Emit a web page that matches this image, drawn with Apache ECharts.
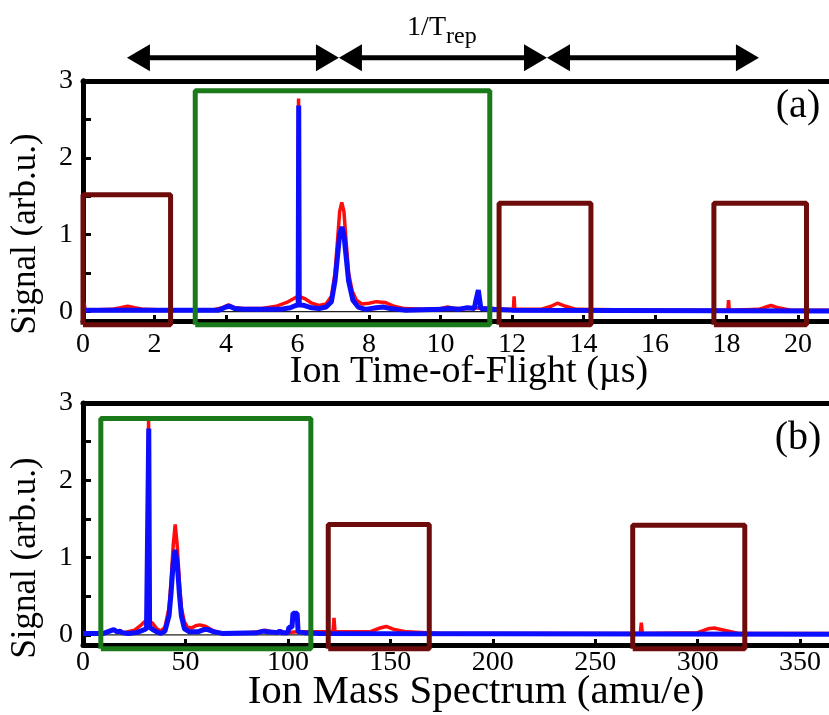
<!DOCTYPE html>
<html><head><meta charset="utf-8">
<script src="https://cdn.jsdelivr.net/npm/echarts@6/dist/echarts.min.js"></script>
<style>html,body{margin:0;padding:0;background:#fff}#c{width:829px;height:715px}</style>
</head><body><div id="c"></div><script>
// ---------- data ----------
const tofTicks = [0,2,4,6,8,10,12,14,16,18,20];
const massTicks = [0,50,100,150,200,250,300,350];
const yTickMarks = [0,0.5,1,1.5,2,2.5,3];
const yTickLabels = [0,1,2,3];

// Panel (a): ion time-of-flight (µs) vs signal
const tofRed = [[0,0.02],[0.03,0.12],[0.06,0.02],[0.8,0.03],[1.05,0.05],[1.25,0.07],[1.45,0.05],[1.7,0.03],[2.5,0.02],[3.6,0.02],[3.9,0.05],[4.07,0.09],[4.25,0.05],[4.45,0.04],[4.5,0.06],[4.55,0.04],[5.0,0.04],[5.4,0.07],[5.7,0.12],[5.9,0.17],[6.01,0.2],[6.03,2.77],[6.05,0.2],[6.2,0.17],[6.4,0.11],[6.6,0.08],[6.8,0.1],[6.95,0.2],[7.05,0.5],[7.12,0.92],[7.18,1.3],[7.24,1.42],[7.3,1.3],[7.36,0.92],[7.43,0.5],[7.53,0.27],[7.65,0.15],[7.8,0.1],[8.0,0.11],[8.2,0.13],[8.45,0.12],[8.7,0.07],[9.0,0.04],[9.5,0.03],[10.0,0.04],[10.2,0.06],[10.4,0.04],[10.7,0.04],[10.75,0.06],[10.8,0.04],[11.0,0.05],[11.4,0.04],[11.8,0.03],[12.04,0.03],[12.06,0.2],[12.08,0.03],[12.8,0.03],[13.1,0.07],[13.27,0.11],[13.5,0.07],[13.8,0.03],[16,0.02],[18.04,0.02],[18.06,0.15],[18.08,0.02],[18.9,0.03],[19.1,0.06],[19.25,0.08],[19.45,0.05],[19.8,0.02],[20.87,0.02]];
const tofBlue = [[0,0.02],[3.8,0.02],[4.0,0.06],[4.1,0.07],[4.25,0.04],[4.5,0.03],[4.55,0.05],[4.6,0.03],[5.5,0.03],[5.8,0.05],[5.95,0.08],[6.02,0.09],[6.035,2.68],[6.05,0.09],[6.2,0.08],[6.4,0.05],[6.6,0.04],[6.8,0.06],[6.95,0.13],[7.05,0.4],[7.12,0.72],[7.18,1.0],[7.24,1.1],[7.3,1.0],[7.36,0.72],[7.43,0.4],[7.55,0.15],[7.7,0.06],[7.9,0.03],[8.2,0.05],[8.4,0.06],[8.6,0.04],[9.0,0.02],[10.0,0.03],[10.25,0.04],[10.5,0.03],[10.75,0.05],[10.8,0.03],[10.95,0.04],[10.98,0.12],[11.03,0.12],[11.06,0.28],[11.1,0.28],[11.13,0.04],[11.5,0.03],[12,0.02],[20.87,0.01]];

// Panel (b): ion mass spectrum (amu/e) vs signal
const massRed = [[0,0.02],[10,0.02],[13,0.05],[15,0.07],[17,0.04],[20,0.03],[25,0.06],[28,0.12],[30,0.17],[31.5,0.19],[32,2.77],[32.5,0.18],[34,0.15],[36,0.08],[38,0.05],[40,0.1],[42,0.35],[43,0.7],[44,1.15],[45,1.43],[46,1.15],[47,0.7],[48,0.35],[49.5,0.17],[51,0.1],[53,0.09],[55,0.12],[57,0.13],[60,0.11],[63,0.06],[67,0.03],[80,0.03],[86,0.04],[89,0.06],[92,0.04],[96,0.04],[97,0.05],[98,0.03],[105,0.04],[112,0.04],[122,0.04],[122.5,0.22],[123,0.04],[140,0.04],[145,0.09],[148,0.11],[152,0.07],[158,0.04],[175,0.02],[272,0.02],[272.5,0.16],[273,0.02],[300,0.03],[305,0.08],[308,0.09],[313,0.06],[320,0.02],[364.1,0.02]];
const massBlue = [[0,0.02],[10,0.02],[13,0.05],[15,0.07],[16.5,0.04],[18,0.05],[19,0.03],[22,0.02],[26,0.03],[29,0.06],[31,0.08],[31.7,0.1],[32.1,2.67],[32.5,0.1],[34,0.07],[36,0.04],[38,0.02],[40,0.05],[42,0.25],[43,0.55],[44,0.92],[45,1.1],[46,0.92],[47,0.55],[48,0.25],[49.5,0.08],[52,0.04],[56,0.04],[59,0.07],[61,0.07],[64,0.04],[68,0.02],[85,0.03],[88,0.05],[90,0.04],[95,0.03],[96,0.05],[97,0.03],[100,0.03],[100.5,0.1],[102,0.1],[102.5,0.28],[104.5,0.28],[105,0.04],[108,0.03],[115,0.02],[364.1,0.01]];

// annotation boxes: [xLeft, xRight, yTop]
const tofBoxesRed = [[0,2.45,1.52],[11.64,14.21,1.41],[17.65,20.24,1.41]];
const tofBoxesGreen = [[3.14,11.38,2.87]];
const massBoxesRed = [[119.7,169,1.43],[268.3,323,1.42]];
const massBoxesGreen = [[8.7,111.2,2.80]];
const boxBottomA = -0.17, boxBottomB = -0.18;

// repetition-period arrows (tips, in µs) at signal level
const repArrowTips = [1.23,7.16,12.98,18.91];
const repArrowY = 3.3;

// ---------- chart ----------
const FONT = '"Liberation Serif","Times New Roman",serif';
const RED = '#ff0d0d', BLUE = '#0d0dff', DRED = '#6e0c0c', GREEN = '#1a7a1a';
const chart = echarts.init(document.getElementById('c'), null, {renderer:'canvas'});

function xAxisPair(gi, max, ticks, margin){
  return [
    {type:'value', gridIndex:gi, position:'bottom', min:0, max:max,
     axisLine:{onZero:false, lineStyle:{color:'#000', width:5}},
     axisTick:{inside:true, length:6, customValues:ticks, lineStyle:{color:'#000', width:3}},
     axisLabel:{customValues:ticks, margin:margin, color:'#000', fontFamily:FONT, fontSize:28},
     splitLine:{show:false}},
    {type:'value', gridIndex:gi, position:'top', min:0, max:max,
     axisLine:{onZero:false, lineStyle:{color:'#000', width:5}},
     axisTick:{show:false}, axisLabel:{show:false}, splitLine:{show:false}}
  ];
}
function yAxis(gi, min){
  return {type:'value', gridIndex:gi, min:min, max:3,
    axisLine:{show:true, onZero:false, lineStyle:{color:'#000', width:5}},
    axisTick:{show:true, inside:true, length:8, customValues:yTickMarks, lineStyle:{color:'#000', width:3}},
    axisLabel:{customValues:yTickLabels, margin:10, color:'#000', fontFamily:FONT, fontSize:28},
    splitLine:{show:false}};
}
function lineSeries(data, xi, yi, color, width, z){
  return {type:'line', data:data, xAxisIndex:xi, yAxisIndex:yi, symbol:'none', showSymbol:false,
    lineStyle:{color:color, width:width}, z:z, animation:false, silent:true, clip:false};
}
function boxSeries(boxes, bottom, xi, yi, color){
  return boxes.map(b => lineSeries(
    [[b[0],bottom],[b[1],bottom],[b[1],b[2]],[b[0],b[2]],[b[0],bottom]], xi, yi, color, 5, 5));
}

const option = {
  backgroundColor:'#fff',
  animation:false,
  grid:[
    {left:83, top:80.8, width:746, height:240.1},
    {left:83, top:403, width:746, height:242}
  ],
  xAxis:[].concat(xAxisPair(0, 20.87, tofTicks, 10), xAxisPair(1, 364.1, massTicks, 4)),
  yAxis:[yAxis(0, -0.12), yAxis(1, -0.13)],
  series:[].concat(
    [lineSeries([[0,0],[20.87,0]], 0, 0, '#222', 1.2, 2),
     lineSeries(tofRed, 0, 0, RED, 3.5, 3),
     lineSeries(tofBlue, 0, 0, BLUE, 5, 4)],
    boxSeries(tofBoxesRed, boxBottomA, 0, 0, DRED),
    boxSeries(tofBoxesGreen, boxBottomA, 0, 0, GREEN),
    [lineSeries([[0,0],[364.1,0]], 2, 1, '#222', 1.2, 2),
     lineSeries(massRed, 2, 1, RED, 3.5, 3),
     lineSeries(massBlue, 2, 1, BLUE, 5, 4)],
    boxSeries(massBoxesRed, boxBottomB, 2, 1, DRED),
    boxSeries(massBoxesGreen, boxBottomB, 2, 1, GREEN)
  )
};
chart.setOption(option);

// ---------- annotations (positions from the chart's own scales) ----------
const g = [];
const headLen = 23, halfH = 13.5;
const pts = repArrowTips.map(t => chart.convertToPixel({xAxisIndex:0, yAxisIndex:0}, [t, repArrowY]));
for (let i = 0; i < pts.length - 1; i++) {
  const a = pts[i], b = pts[i+1], y = a[1];
  g.push({type:'line', shape:{x1:a[0]+headLen-2, y1:y, x2:b[0]-headLen+2, y2:y}, style:{stroke:'#000', lineWidth:5}});
  g.push({type:'polygon', shape:{points:[[a[0],y],[a[0]+headLen,y-halfH],[a[0]+headLen,y+halfH]]}, style:{fill:'#000'}});
  g.push({type:'polygon', shape:{points:[[b[0],y],[b[0]-headLen,y-halfH],[b[0]-headLen,y+halfH]]}, style:{fill:'#000'}});
}
function txt(text, x, y, size, align, valign, rot){
  return {type:'text', x:x, y:y, rotation:rot||0,
    style:{text:text, fill:'#000', font:'normal ' + size + 'px ' + FONT,
      align:align, textAlign:align, verticalAlign:valign, textVerticalAlign:valign}};
}
g.push(txt('1/T', 446, 42, 28, 'right', 'bottom'));
g.push(txt('rep', 446, 49, 24, 'left', 'bottom'));
g.push(txt('(a)', 798, 106, 40, 'center', 'middle'));
g.push(txt('(b)', 798, 438, 40, 'center', 'middle'));
g.push(txt('Ion Time-of-Flight (µs)', 469, 372, 38, 'center', 'middle'));
g.push(txt('Ion Mass Spectrum (amu/e)', 476, 692, 41, 'center', 'middle'));
g.push(txt('Signal (arb.u.)', 26, 234, 35, 'center', 'middle', Math.PI/2));
g.push(txt('Signal (arb.u.)', 26, 558, 35, 'center', 'middle', Math.PI/2));
chart.setOption({graphic:{elements:g}});
</script></body></html>
